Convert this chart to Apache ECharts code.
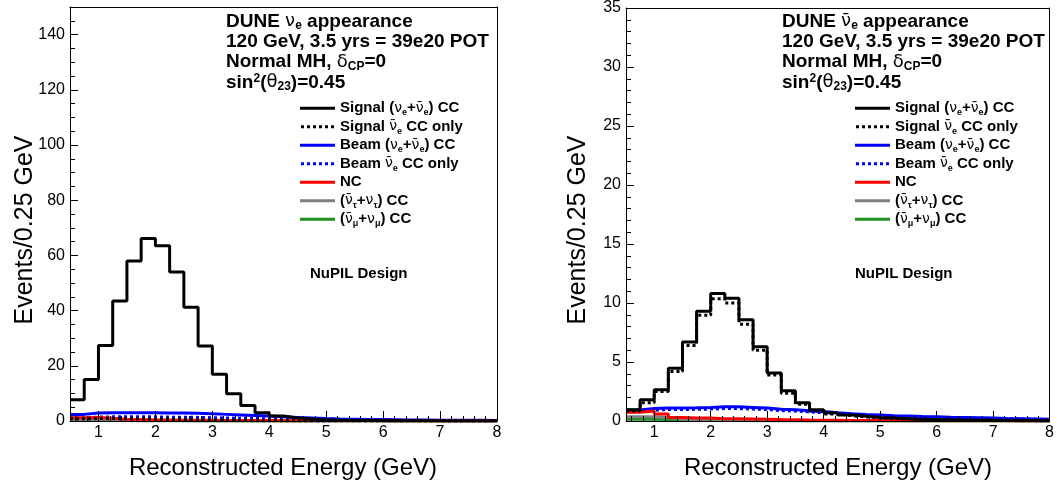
<!DOCTYPE html>
<html><head><meta charset="utf-8">
<script src="https://cdn.jsdelivr.net/npm/echarts@6/dist/echarts.min.js"></script>
<style>html,body{margin:0;padding:0;background:#fff}#c{width:1057px;height:492px}</style>
</head><body><div id="c"></div>
<script>
// ---- data ----
const binLow = 0.5, binWidth = 0.25;   // 30 bins from 0.5 to 8 GeV
// Left panel: nu_e appearance
const L_sig    = [7.7,15,27.4,43.5,58,66.1,63.5,54,41.2,27.2,16.9,9.9,5.6,3.0,1.8,1.1,0.7,0.45,0.3,0.2,0.15,0.1,0.08,0.06,0.05,0.04,0.03,0.02,0.02,0.01];
const L_sigbar = [0.8,0.9,0.9,0.8,0.8,0.7,0.6,0.5,0.4,0.3,0.2,0.15,0.1,0.07,0.05,0.04,0.03,0.02,0.02,0.01,0.01,0.01,0.01,0.01,0,0,0,0,0,0];
const L_beam   = [2.4,2.9,3.0,3.0,3.0,3.0,2.9,2.9,2.8,2.6,2.4,2.2,2.0,1.8,1.5,1.3,1.1,0.9,0.75,0.65,0.55,0.5,0.45,0.4,0.35,0.3,0.3,0.25,0.25,0.2];
const L_beambar= [1.2,1.4,1.5,1.5,1.5,1.5,1.4,1.4,1.3,1.2,1.1,1.0,0.9,0.8,0.7,0.6,0.5,0.45,0.4,0.35,0.3,0.25,0.2,0.2,0.2,0.15,0.15,0.15,0.1,0.1];
const L_nc     = [1.2,1.3,1.0,0.6,0.5,0.4,0.35,0.3,0.3,0.25,0.2,0.2,0.15,0.15,0.1,0.1,0.1,0.08,0.07,0.06,0.05,0.05,0.04,0.04,0.03,0.03,0.03,0.02,0.02,0.02];
const L_tau    = [0.3,0.3,0.2,0.15,0.1,0.08,0.06,0.05,0.04,0.03,0.03,0.02,0.02,0.02,0.01,0.01,0.01,0.01,0,0,0,0,0,0,0,0,0,0,0,0];
const L_numu   = [0.2,0.25,0.2,0.15,0.1,0.08,0.06,0.05,0.04,0.03,0.03,0.02,0.02,0.01,0.01,0.01,0.01,0,0,0,0,0,0,0,0,0,0,0,0,0];
// Right panel: nu_e-bar appearance
const R_sig    = [0.95,1.8,2.64,4.47,6.7,9.3,10.8,10.4,8.57,6.3,4.07,2.56,1.54,0.95,0.7,0.5,0.4,0.3,0.25,0.2,0.15,0.12,0.1,0.08,0.07,0.06,0.05,0.04,0.03,0.03];
const R_sigbar = [0.85,1.55,2.5,4.2,6.4,8.96,10.37,10.0,8.2,6.0,3.9,2.36,1.43,0.85,0.6,0.45,0.35,0.27,0.22,0.17,0.13,0.1,0.08,0.07,0.06,0.05,0.04,0.03,0.03,0.02];
const R_beam   = [0.93,1.05,1.1,1.1,1.12,1.15,1.2,1.2,1.15,1.1,1.0,0.95,0.87,0.8,0.7,0.62,0.55,0.5,0.45,0.42,0.38,0.35,0.32,0.3,0.28,0.25,0.22,0.2,0.18,0.15];
const R_beambar= [0.82,0.92,0.97,0.97,0.99,1.01,1.05,1.05,1.01,0.97,0.88,0.84,0.77,0.7,0.62,0.55,0.48,0.44,0.4,0.37,0.33,0.31,0.28,0.26,0.25,0.22,0.19,0.18,0.16,0.13];
const R_nc     = [0.75,0.85,0.6,0.3,0.25,0.25,0.2,0.2,0.18,0.15,0.12,0.1,0.08,0.07,0.06,0.05,0.05,0.04,0.04,0.03,0.03,0.03,0.02,0.02,0.02,0.02,0.02,0.01,0.01,0.01];
const R_tau    = [0.35,0.35,0.3,0.15,0.1,0.08,0.06,0.05,0.04,0.03,0.03,0.02,0.02,0.02,0.01,0.01,0.01,0.01,0,0,0,0,0,0,0,0,0,0,0,0];
const R_numu   = [0.15,0.15,0.12,0.1,0.08,0.06,0.05,0.04,0.03,0.02,0.02,0.02,0.01,0.01,0.01,0.01,0,0,0,0,0,0,0,0,0,0,0,0,0,0];

const leftYMax = 150, leftYStep = 20;
const rightYMax = 35, rightYStep = 5;
const xMin = 0.5, xMax = 8;

const seriesKeys = ['sig','sigbar','beam','beambar','nc','tau','numu'];
const legendLabels = {
  sig:     'Signal ({n|ν}{s|e}+{n|ν̄}{s|e}) CC',
  sigbar:  'Signal {n|ν̄}{s|e} CC only',
  beam:    'Beam ({n|ν}{s|e}+{n|ν̄}{s|e}) CC',
  beambar: 'Beam {n|ν̄}{s|e} CC only',
  nc:      'NC',
  tau:     '({n|ν̄}{s|τ}+{n|ν}{s|τ}) CC',
  numu:    '({n|ν̄}{s|μ}+{n|ν}{s|μ}) CC'
};
const headerLeft  = 'DUNE {n|ν}{s|e} appearance\n120 GeV, 3.5 yrs = 39e20 POT\nNormal MH, {n|δ}{s|CP}=0\nsin{p|2}({n|θ}{s|23})=0.45';
const headerRight = 'DUNE {n|ν̄}{s|e} appearance\n120 GeV, 3.5 yrs = 39e20 POT\nNormal MH, {n|δ}{s|CP}=0\nsin{p|2}({n|θ}{s|23})=0.45';
const panelNote = 'NuPIL Design';
const xTitle = 'Reconstructed Energy (GeV)';
const yTitle = 'Events/0.25 GeV';

// ---- chart ----
const FONT = '"Liberation Sans", Arial, Helvetica, sans-serif';
const GREEK = '"DejaVu Sans", sans-serif';
function hist(vals){
  const pts = vals.map((v,i)=>[binLow + i*binWidth, v]);
  pts.push([binLow + vals.length*binWidth, vals[vals.length-1]]);
  return pts;
}
const SOLID_ICON = 'path://M0,0H35V3H0Z';
const DOT_ICON = 'path://M0,0h3v3h-3z M6,0h3v3h-3z M12,0h3v3h-3z M18,0h3v3h-3z M24,0h3v3h-3z M30,0h3v3h-3z';
const styles = {
  numu:    {color:'#1f8f1f', type:'solid', icon:SOLID_ICON},
  tau:     {color:'#7f7f7f', type:'solid', icon:SOLID_ICON},
  beambar: {color:'#0000ff', type:[3,3], icon:DOT_ICON},
  beam:    {color:'#0000ff', type:'solid', icon:SOLID_ICON},
  nc:      {color:'#ff0000', type:'solid', icon:SOLID_ICON},
  sig:     {color:'#000000', type:'solid', icon:SOLID_ICON},
  sigbar:  {color:'#000000', type:[3,3], icon:DOT_ICON}
};
const drawOrder = ['numu','tau','beambar','beam','nc','sig','sigbar'];
const panelData = [
  {sig:L_sig, sigbar:L_sigbar, beam:L_beam, beambar:L_beambar, nc:L_nc, tau:L_tau, numu:L_numu},
  {sig:R_sig, sigbar:R_sigbar, beam:R_beam, beambar:R_beambar, nc:R_nc, tau:R_tau, numu:R_numu}
];
const series = [];
panelData.forEach((pd, p)=>{
  drawOrder.forEach(k=>{
    series.push({
      name:k, type:'line', xAxisIndex:p, yAxisIndex:p,
      data: hist(pd[k]), step:'end', symbol:'none',
      clip:true, silent:true,
      lineStyle:{color:styles[k].color, width:3, type:styles[k].type},
      itemStyle:{color:styles[k].color}
    });
  });
});

const AXIS_LAYER = 1;   // draw axes on their own canvas layer, above the histograms
function xAxisCfg(idx){
  return {
    type:'value', gridIndex:idx, position:'bottom', min:xMin, max:xMax, splitNumber:8,
    zlevel:AXIS_LAYER, z:10,
    axisLine:{show:true, onZero:false, lineStyle:{color:'#000'}},
    axisTick:{show:true, inside:true, length:10, lineStyle:{color:'#000', width:1}},
    minorTick:{show:true, splitNumber:5, length:5, lineStyle:{color:'#000', width:1}},
    splitLine:{show:false},
    axisLabel:{show:true, showMinLabel:false, margin:4, color:'#000', fontSize:16, fontFamily:FONT}
  };
}
function frameX(idx){
  return {type:'value', gridIndex:idx, position:'top', min:xMin, max:xMax,
    zlevel:AXIS_LAYER, z:10,
    axisLine:{show:true, onZero:false, lineStyle:{color:'#000'}},
    axisTick:{show:false}, axisLabel:{show:false}, splitLine:{show:false}};
}
function yAxisCfg(idx, max, step, minorSplit){
  return {
    type:'value', gridIndex:idx, position:'left', min:0, max:max, interval:step,
    zlevel:AXIS_LAYER, z:10,
    axisLine:{show:true, onZero:false, lineStyle:{color:'#000'}},
    axisTick:{show:true, inside:true, length:8, lineStyle:{color:'#000', width:1}},
    minorTick:{show:true, splitNumber:minorSplit, length:5, lineStyle:{color:'#000', width:1}},
    splitLine:{show:false},
    axisLabel:{show:true, showMaxLabel:(max % step === 0), margin:5, color:'#000', fontSize:16, fontFamily:FONT}
  };
}
function frameY(idx, max){
  return {type:'value', gridIndex:idx, position:'right', min:0, max:max,
    zlevel:AXIS_LAYER, z:10,
    axisLine:{show:true, onZero:false, lineStyle:{color:'#000'}},
    axisTick:{show:false}, axisLabel:{show:false}, splitLine:{show:false}};
}
function legendCfg(left){
  return {
    show:true, orient:'vertical', left:left, top:99.3, padding:0,
    itemWidth:35, itemHeight:3, itemGap:0.5, itemTextGap:7,
    data: seriesKeys.map(k=>({name:k, icon:styles[k].icon})),
    formatter: name => legendLabels[name],
    textStyle:{fontSize:15, fontWeight:'bold', fontFamily:FONT, color:'#000', lineHeight:18,
      rich:{
        n:{fontSize:14, fontWeight:'normal', fontFamily:GREEK, lineHeight:18, color:'#000'},
        s:{fontSize:9, fontWeight:'bold', fontFamily:FONT, lineHeight:9, verticalAlign:'bottom', color:'#000'}
      }}
  };
}
function headerText(x, text){
  return {
    type:'text', left:x, top:11.5, silent:true,
    style:{text:text, fontSize:19, fontWeight:'bold', fontFamily:FONT, fill:'#000', lineHeight:20.3,
      rich:{
        n:{fontSize:18, fontWeight:'normal', fontFamily:GREEK, lineHeight:20.3, fill:'#000'},
        s:{fontSize:12, fontWeight:'bold', fontFamily:FONT, lineHeight:12, verticalAlign:'bottom', fill:'#000'},
        p:{fontSize:12, fontWeight:'bold', fontFamily:FONT, lineHeight:12, verticalAlign:'top', fill:'#000'}
      }}
  };
}
function plainText(x, y, text, size, bold, rot, align){
  return {
    type:'text', x:x, y:y, rotation:rot||0, silent:true,
    style:{text:text, fontSize:size, fontWeight:bold?'bold':'normal', fontFamily:FONT, fill:'#000',
      align:align||'left', verticalAlign:'middle'}
  };
}

const option = {
  animation:false,
  grid:[
    {left:70, top:7, width:427, height:414, show:false},
    {left:626, top:7, width:424, height:414, show:false}
  ],
  xAxis:[xAxisCfg(0), xAxisCfg(1), frameX(0), frameX(1)],
  yAxis:[yAxisCfg(0, leftYMax, leftYStep, 4), yAxisCfg(1, rightYMax, rightYStep, 5), frameY(0, leftYMax), frameY(1, rightYMax)],
  legend:[legendCfg(300), legendCfg(855)],
  series: series,
  graphic:[
    headerText(226, headerLeft),
    headerText(782, headerRight),
    plainText(310, 274, panelNote, 15, true),
    plainText(855, 274, panelNote, 15, true),
    plainText(283, 468, xTitle, 24, false, 0, 'center'),
    plainText(838, 468, xTitle, 24, false, 0, 'center'),
    plainText(25, 230, yTitle, 25, false, Math.PI/2, 'center'),
    plainText(578, 230, yTitle, 25, false, Math.PI/2, 'center')
  ]
};
const chart = echarts.init(document.getElementById('c'));
chart.setOption(option);
</script>
</body></html>
